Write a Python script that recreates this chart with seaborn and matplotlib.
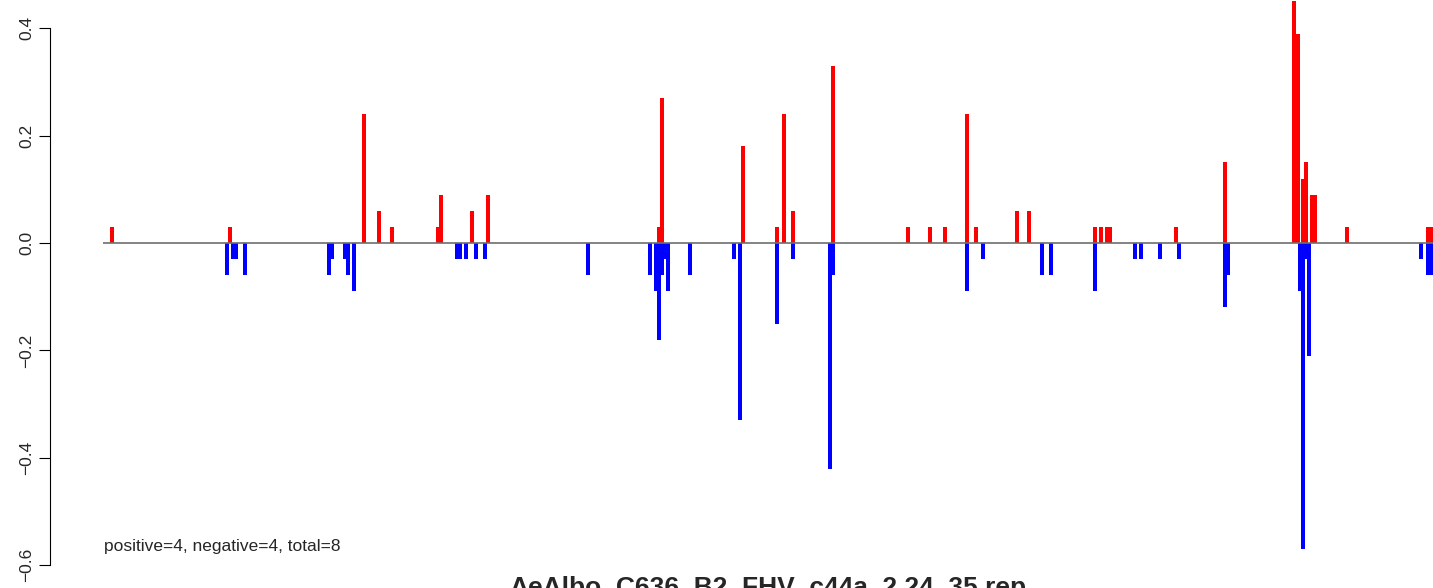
import numpy as np
import matplotlib
matplotlib.use("Agg")
import matplotlib.pyplot as plt
import seaborn as sns

sns.set_style("white")
plt.rcParams["font.family"] = ["Liberation Sans", "DejaVu Sans"]

title = "AeAlbo_C636_B2_FHV_c44a_2.24_35.rep"
note = "positive=4, negative=4, total=8"

# positions along the sequence and scores
pos_up = [112, 230, 364, 379, 392, 438, 441, 472, 488, 659, 662, 743, 777, 784,
          793, 833, 908, 930, 945, 967, 976, 1017, 1029, 1095, 1101, 1107, 1110,
          1176, 1225, 1294, 1298, 1303, 1306, 1312, 1315, 1347, 1428, 1431]
val_up = [0.03, 0.03, 0.24, 0.06, 0.03, 0.03, 0.09, 0.06, 0.09, 0.03, 0.27, 0.18,
          0.03, 0.24, 0.06, 0.33, 0.03, 0.03, 0.03, 0.24, 0.03, 0.06, 0.06, 0.03,
          0.03, 0.03, 0.03, 0.03, 0.15, 0.45, 0.39, 0.12, 0.15, 0.09, 0.09, 0.03,
          0.03, 0.03]

pos_down = [227, 233, 236, 245, 329, 332, 345, 348, 354, 457, 460, 466, 476, 485,
            588, 650, 656, 659, 662, 665, 668, 690, 734, 740, 777, 793, 830, 833,
            967, 983, 1042, 1051, 1095, 1135, 1141, 1160, 1179, 1225, 1228, 1300,
            1303, 1306, 1309, 1421, 1428, 1431]
val_down = [-0.06, -0.03, -0.03, -0.06, -0.06, -0.03, -0.03, -0.06, -0.09, -0.03,
            -0.03, -0.03, -0.03, -0.03, -0.06, -0.06, -0.09, -0.18, -0.06, -0.03,
            -0.09, -0.06, -0.03, -0.33, -0.15, -0.03, -0.42, -0.06, -0.09, -0.03,
            -0.06, -0.06, -0.09, -0.03, -0.03, -0.03, -0.03, -0.12, -0.06, -0.09,
            -0.57, -0.03, -0.21, -0.03, -0.06, -0.06]

line_start = 103
yticks = [-0.6, -0.4, -0.2, 0.0, 0.2, 0.4]

fig = plt.figure(figsize=(14.33, 5.88), dpi=100)
ax = fig.add_axes([50 / 1433, 0, 1 - 50 / 1433, 1])

ax.bar(pos_up, val_up, width=4, color="#ff0000", linewidth=0)
ax.bar(pos_down, val_down, width=4, color="#0000ff", linewidth=0)
ax.hlines(0, line_start, 1440, color="#6e6e6e", linewidth=1.2, zorder=3)

ax.set_xlim(50, 1433)
ax.set_ylim(-0.6425, 0.4525)
ax.set_xticks([])
ax.set_yticks(yticks)
ax.set_yticklabels([f"{t:.1f}".replace("-", "\u2212") for t in yticks],
                   rotation=90, va="center", fontsize=12.5)
ax.tick_params(axis="y", left=True, length=8, width=0.8, pad=3.5, color="black")

for s in ["top", "right", "bottom"]:
    ax.spines[s].set_visible(False)
ax.spines["left"].set_bounds(-0.6, 0.4)
ax.spines["left"].set_color("black")
ax.spines["left"].set_linewidth(0.8)

ax.text(104, -0.565, note, fontsize=12.5, va="center", ha="left")
fig.text(768 / 1433, 1 - 576 / 588, title, fontsize=19, fontweight="bold",
         ha="center", va="top")

fig.savefig("out.png", dpi=100)
